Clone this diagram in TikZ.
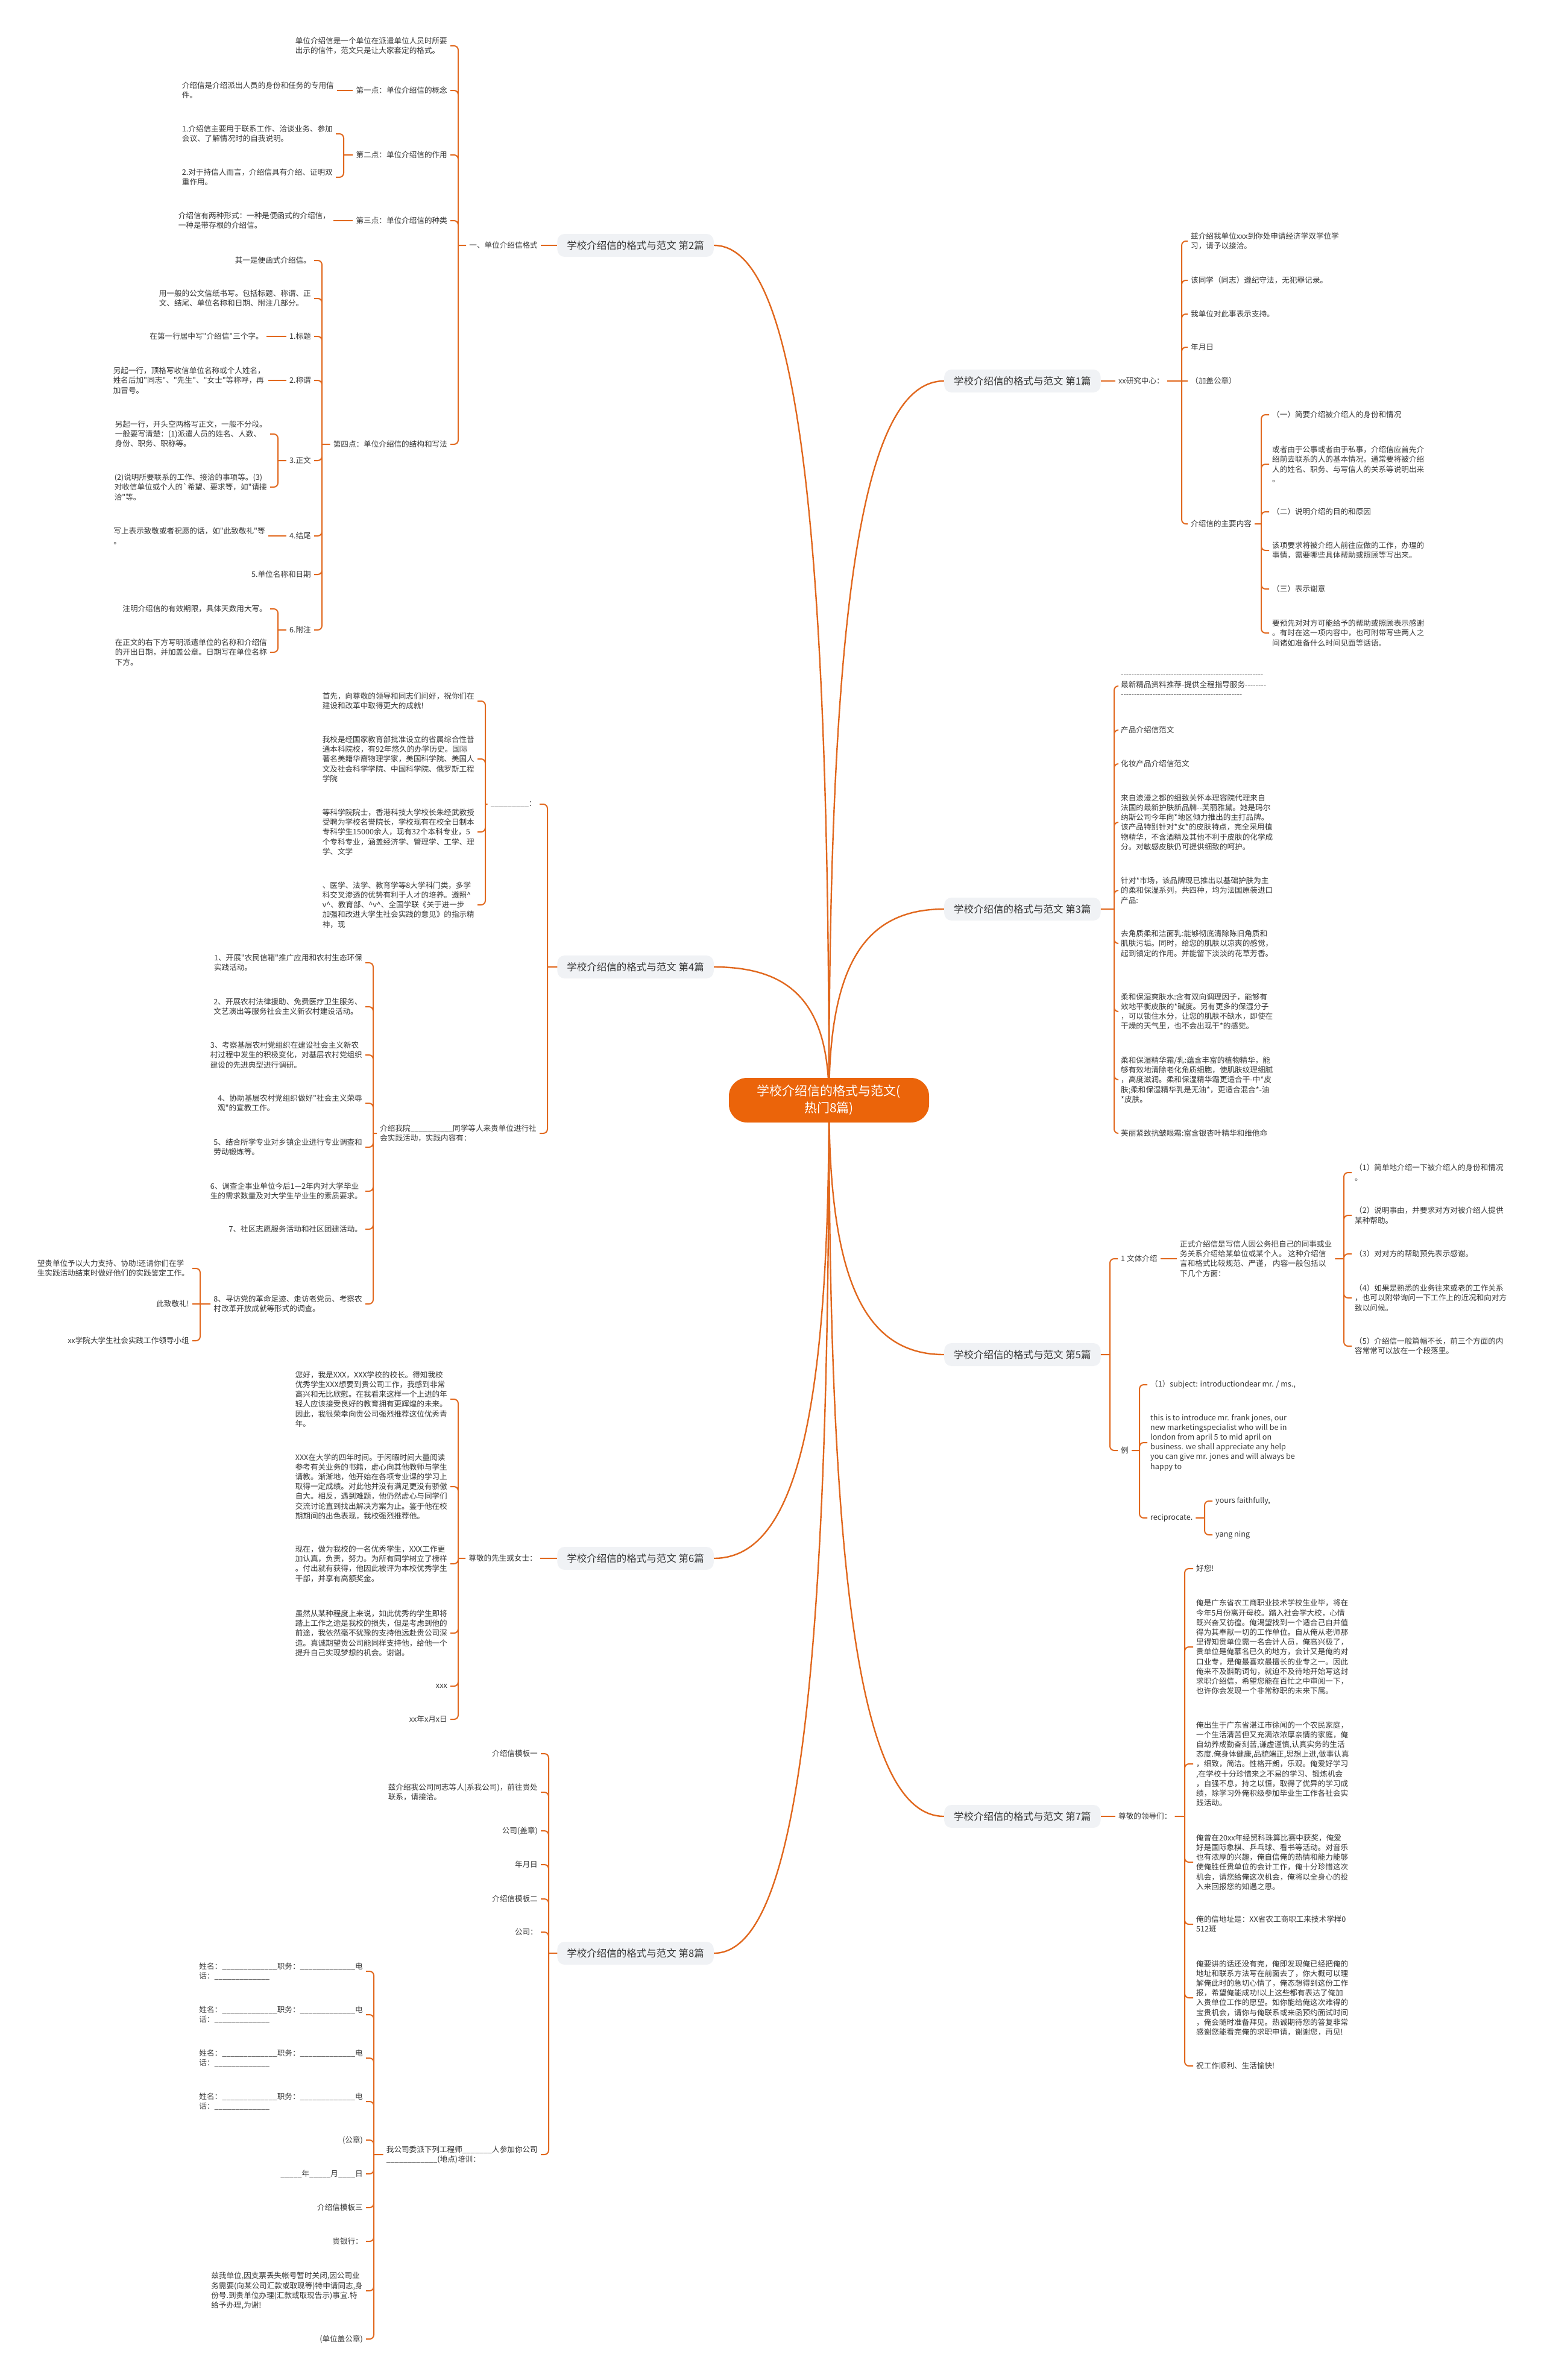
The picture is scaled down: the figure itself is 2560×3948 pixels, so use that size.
\documentclass[tikz,border=0pt]{standalone}
\usepackage{fontspec}
\usepackage{xcolor}
\usepackage{tikz}
\usetikzlibrary{calc,backgrounds}
\newfontfamily\cjkfont{Noto Sans CJK SC}
\definecolor{linec}{RGB}{225,104,30}
\definecolor{rootc}{RGB}{235,100,10}
\definecolor{topicc}{RGB}{240,242,245}
\definecolor{inkc}{RGB}{55,55,55}

\begin{document}
\begin{tikzpicture}[x=1pt,y=-1pt,
  txt/.style={font=\cjkfont\fontsize{12.6}{16.2}\selectfont,text=inkc,inner xsep=5pt,inner ysep=1pt,align=left},
  lt/.style={txt,anchor=east},
  rt/.style={txt,anchor=west},
  topic/.style={font=\cjkfont\fontsize{16.5}{20}\selectfont,text=inkc,fill=topicc,rounded corners=12pt,minimum height=38pt,inner xsep=16pt},
  root/.style={font=\cjkfont\fontsize{21}{28}\selectfont,text=white,fill=rootc,rounded corners=30pt,minimum width=332pt,minimum height=74pt,align=center},
  link/.style={draw=linec,line width=2pt,rounded corners=7pt},
  trunk/.style={draw=linec,line width=2.4pt}]
\useasboundingbox (0,0) rectangle (2560,3948);

\node[root] (root) at (1375,1825) {学校介绍信的格式与范文(\\热门8篇)};

\node[topic,anchor=west] (b1) at (1566,632) {学校介绍信的格式与范文 第1篇};
\node[topic,anchor=east] (b2) at (1184,407) {学校介绍信的格式与范文 第2篇};
\node[topic,anchor=west] (b3) at (1566,1508) {学校介绍信的格式与范文 第3篇};
\node[topic,anchor=east] (b4) at (1184,1604) {学校介绍信的格式与范文 第4篇};
\node[topic,anchor=west] (b5) at (1566,2247) {学校介绍信的格式与范文 第5篇};
\node[topic,anchor=east] (b6) at (1184,2585) {学校介绍信的格式与范文 第6篇};
\node[topic,anchor=west] (b7) at (1566,3013) {学校介绍信的格式与范文 第7篇};
\node[topic,anchor=east] (b8) at (1184,3240) {学校介绍信的格式与范文 第8篇};

\node[lt] (n2) at (897,407) {一、单位介绍信格式};
\coordinate (j2) at (760,407);
\node[lt] (a1) at (747,76) {单位介绍信是一个单位在派遣单位人员时所要\\出示的信件，范文只是让大家套定的格式。};
\node[lt] (a2) at (747,150) {第一点：单位介绍信的概念};
\node[lt] (a3) at (747,257) {第二点：单位介绍信的作用};
\node[lt] (a4) at (747,366) {第三点：单位介绍信的种类};
\node[lt] (a5) at (747,737) {第四点：单位介绍信的结构和写法};
\node[lt] (a2c) at (559,150) {介绍信是介绍派出人员的身份和任务的专用信\\件。};
\coordinate (j2b) at (570,257);
\node[lt] (a3c1) at (557,222) {1.介绍信主要用于联系工作、洽谈业务、参加\\会议、了解情况时的自我说明。};
\node[lt] (a3c2) at (557,294) {2.对于持信人而言，介绍信具有介绍、证明双\\重作用。};
\node[lt] (a4c) at (553,366) {介绍信有两种形式：一种是便函式的介绍信，\\一种是带存根的介绍信。};
\coordinate (j2c) at (534,737);
\node[lt] (d1) at (521,432) {其一是便函式介绍信。};
\node[lt] (d2) at (521,495) {用一般的公文信纸书写。包括标题、称谓、正\\文、结尾、单位名称和日期、附注几部分。};
\node[lt] (d3) at (521,558) {1.标题};
\node[lt] (d4) at (521,631) {2.称谓};
\node[lt] (d5) at (521,764) {3.正文};
\node[lt] (d6) at (521,889) {4.结尾};
\node[lt] (d7) at (521,953) {5.单位名称和日期};
\node[lt] (d8) at (521,1045) {6.附注};
\node[lt] (d3c) at (442,558) {在第一行居中写"介绍信"三个字。};
\node[lt] (d4c) at (445,631) {另起一行，顶格写收信单位名称或个人姓名，\\姓名后加"同志"、"先生"、"女士"等称呼，再\\加冒号。};
\coordinate (j2d) at (461,764);
\node[lt] (d5c1) at (448,720) {另起一行，开头空两格写正文，一般不分段。\\一般要写清楚：(1)派遣人员的姓名、人数、\\身份、职务、职称等。};
\node[lt] (d5c2) at (448,808) {(2)说明所要联系的工作、接洽的事项等。(3)\\对收信单位或个人的`希望、要求等，如"请接\\洽"等。};
\node[lt] (d6c) at (445,889) {写上表示致敬或者祝愿的话，如"此致敬礼"等\\。};
\coordinate (j2e) at (461,1045);
\node[lt] (d8c1) at (448,1010) {注明介绍信的有效期限，具体天数用大写。};
\node[lt] (d8c2) at (448,1082) {在正文的右下方写明派遣单位的名称和介绍信\\的开出日期，并加盖公章。日期写在单位名称\\下方。};

\draw[link] (b2) -- (n2);
\draw[link] (n2) -- (j2) (j2) |- (a1.east) (j2) |- (a2.east) (j2) |- (a3.east) (j2) |- (a4.east) (j2) |- (a5.east);
\draw[link] (a2) -- (a2c);
\draw[link] (a3) -- (j2b) (j2b) |- (a3c1.east) (j2b) |- (a3c2.east);
\draw[link] (a4) -- (a4c);
\draw[link] (a5) -- (j2c) (j2c) |- (d1.east) (j2c) |- (d2.east) (j2c) |- (d3.east) (j2c) |- (d4.east) (j2c) |- (d5.east) (j2c) |- (d6.east) (j2c) |- (d7.east) (j2c) |- (d8.east);
\draw[link] (d3) -- (d3c);
\draw[link] (d4) -- (d4c);
\draw[link] (d5) -- (j2d) (j2d) |- (d5c1.east) (j2d) |- (d5c2.east);
\draw[link] (d6) -- (d6c);
\draw[link] (d8) -- (j2e) (j2e) |- (d8c1.east) (j2e) |- (d8c2.east);

\node[rt] (f0) at (1850,632) {xx研究中心：};
\coordinate (j1) at (1960,632);
\node[rt] (g1) at (1970,400) {兹介绍我单位xxx到你处申请经济学双学位学\\习，请予以接洽。};
\node[rt] (g2) at (1970,465) {该同学（同志）遵纪守法，无犯罪记录。};
\node[rt] (g3) at (1970,521) {我单位对此事表示支持。};
\node[rt] (g4) at (1970,576) {年月日};
\node[rt] (g5) at (1970,632) {（加盖公章）};
\node[rt] (g6) at (1970,869) {介绍信的主要内容};
\coordinate (j1b) at (2092,869);
\node[rt] (h1) at (2105,688) {（一）简要介绍被介绍人的身份和情况};
\node[rt] (h2) at (2105,770) {或者由于公事或者由于私事，介绍信应首先介\\绍前去联系的人的基本情况。通常要将被介绍\\人的姓名、职务、与写信人的关系等说明出来\\。};
\node[rt] (h3) at (2105,849) {（二）说明介绍的目的和原因};
\node[rt] (h4) at (2105,913) {该项要求将被介绍人前往应做的工作，办理的\\事情，需要哪些具体帮助或照顾等写出来。};
\node[rt] (h5) at (2105,977) {（三）表示谢意};
\node[rt] (h6) at (2105,1050) {要预先对对方可能给予的帮助或照顾表示感谢\\。有时在这一项内容中，也可附带写些两人之\\间诸如准备什么时间见面等话语。};

\draw[link] (b1) -- (f0);
\draw[link] (f0) -- (j1) (j1) |- (g1.west) (j1) |- (g2.west) (j1) |- (g3.west) (j1) |- (g4.west) (j1) -- (g5.west) (j1) |- (g6.west);
\draw[link] (g6) -- (j1b) (j1b) |- (h1.west) (j1b) |- (h2.west) (j1b) |- (h3.west) (j1b) |- (h4.west) (j1b) |- (h5.west) (j1b) |- (h6.west);

\coordinate (j3) at (1848,1508);
\node[rt] (k1) at (1854,1138) {------------------------------------------------------\\最新精品资料推荐-提供全程指导服务--------\\----------------------------------------------};
\node[rt] (k2) at (1854,1211) {产品介绍信范文};
\node[rt] (k3) at (1854,1267) {化妆产品介绍信范文};
\node[rt] (k4) at (1854,1364) {来自浪漫之都的细致关怀本理容院代理来自\\法国的最新护肤新品牌--芙丽雅黛。她是玛尔\\纳斯公司今年向*地区倾力推出的主打品牌。\\该产品特别针对*女*的皮肤特点，完全采用植\\物精华，不含酒精及其他不利于皮肤的化学成\\分。对敏感皮肤仍可提供细致的呵护。};
\node[rt] (k5) at (1854,1477) {针对*市场，该品牌现已推出以基础护肤为主\\的柔和保湿系列，共四种，均为法国原装进口\\产品:};
\node[rt] (k6) at (1854,1565) {去角质柔和洁面乳:能够彻底清除陈旧角质和\\肌肤污垢。同时，给您的肌肤以凉爽的感觉，\\起到镇定的作用。并能留下淡淡的花草芳香。};
\node[rt] (k7) at (1854,1678) {柔和保湿爽肤水:含有双向调理因子，能够有\\效地平衡皮肤的*碱度。另有更多的保湿分子\\，可以锁住水分，让您的肌肤不缺水，即使在\\干燥的天气里，也不会出现干*的感觉。};
\node[rt] (k8) at (1854,1791) {柔和保湿精华霜/乳:蕴含丰富的植物精华，能\\够有效地清除老化角质细胞，使肌肤纹理细腻\\，高度滋润。柔和保湿精华霜更适合干-中*皮\\肤;柔和保湿精华乳是无油*，更适合混合*-油\\*皮肤。};
\node[rt] (k9) at (1854,1880) {芙丽紧致抗皱眼霜:富含银杏叶精华和维他命};

\draw[link] (b3) -- (j3) (j3) |- (k1.west) (j3) |- (k2.west) (j3) |- (k3.west) (j3) |- (k4.west) (j3) |- (k5.west) (j3) |- (k6.west) (j3) |- (k7.west) (j3) |- (k8.west) (j3) |- (k9.west);

\coordinate (j4) at (908,1604);
\node[lt] (m1) at (895,1334) {\_\_\_\_\_\_\_\_\_：};
\node[lt] (m2) at (895,1880) {介绍我院\_\_\_\_\_\_\_\_\_\_同学等人来贵单位进行社\\会实践活动，实践内容有：};
\coordinate (j4b) at (805,1334);
\node[lt] (p1) at (792,1163) {首先，向尊敬的领导和同志们问好，祝你们在\\建设和改革中取得更大的成就!};
\node[lt] (p2) at (792,1259) {我校是经国家教育部批准设立的省属综合性普\\通本科院校，有92年悠久的办学历史。国际\\著名美籍华裔物理学家，美国科学院、美国人\\文及社会科学学院、中国科学院、俄罗斯工程\\学院};
\node[lt] (p3) at (792,1380) {等科学院院士，香港科技大学校长朱经武教授\\受聘为学校名誉院长，学校现有在校全日制本\\专科学生15000余人，现有32个本科专业，5\\个专科专业，涵盖经济学、管理学、工学、理\\学、文学};
\node[lt] (p4) at (792,1501) {、医学、法学、教育学等8大学科门类，多学\\科交叉渗透的优势有利于人才的培养。遵照\textasciicircum\\v\textasciicircum、教育部、\textasciicircum v\textasciicircum、全国学联《关于进一步\\加强和改进大学生社会实践的意见》的指示精\\神，现};
\coordinate (j4c) at (619,1880);
\node[lt] (q1) at (606,1597) {1、开展"农民信箱"推广应用和农村生态环保\\实践活动。};
\node[lt] (q2) at (606,1670) {2、开展农村法律援助、免费医疗卫生服务、\\文艺演出等服务社会主义新农村建设活动。};
\node[lt] (q3) at (606,1750) {3、考察基层农村党组织在建设社会主义新农\\村过程中发生的积极变化，对基层农村党组织\\建设的先进典型进行调研。};
\node[lt] (q4) at (606,1830) {4、协助基层农村党组织做好"社会主义荣辱\\观"的宣教工作。};
\node[lt] (q5) at (606,1903) {5、结合所学专业对乡镇企业进行专业调查和\\劳动锻炼等。};
\node[lt] (q6) at (606,1976) {6、调查企事业单位今后1—2年内对大学毕业\\生的需求数量及对大学生毕业生的素质要求。};
\node[lt] (q7) at (606,2039) {7、社区志愿服务活动和社区团建活动。};
\node[lt] (q8) at (606,2163) {8、寻访党的革命足迹、走访老党员、考察农\\村改革开放成就等形式的调查。};
\coordinate (j4d) at (332,2163);
\node[lt] (r1) at (319,2104) {望贵单位予以大力支持、协助!还请你们在学\\生实践活动结束时做好他们的实践鉴定工作。};
\node[lt] (r2) at (319,2163) {此致敬礼!};
\node[lt] (r3) at (319,2224) {xx学院大学生社会实践工作领导小组};

\draw[link] (b4) -- (j4) (j4) |- (m1.east) (j4) |- (m2.east);
\draw[link] (m1) -- (j4b) (j4b) |- (p1.east) (j4b) |- (p2.east) (j4b) |- (p3.east) (j4b) |- (p4.east);
\draw[link] (m2) -- (j4c) (j4c) |- (q1.east) (j4c) |- (q2.east) (j4c) |- (q3.east) (j4c) |- (q4.east) (j4c) |- (q5.east) (j4c) |- (q6.east) (j4c) |- (q7.east) (j4c) |- (q8.east);
\draw[link] (q8) -- (j4d) (j4d) |- (r1.east) (j4d) -- (r2.east) (j4d) |- (r3.east);

\coordinate (j5) at (1841,2247);
\node[rt] (s1) at (1854,2088) {1 文体介绍};
\node[rt] (s2) at (1854,2406) {例};
\node[rt] (t0) at (1952,2088) {正式介绍信是写信人因公务把自己的同事或业\\务关系介绍给某单位或某个人。 这种介绍信\\言和格式比较规范、严谨， 内容一般包括以\\下几个方面：};
\coordinate (j5b) at (2229,2088);
\node[rt] (u1) at (2242,1945) {（1）简单地介绍一下被介绍人的身份和情况\\。};
\node[rt] (u2) at (2242,2016) {（2）说明事由，并要求对方对被介绍人提供\\某种帮助。};
\node[rt] (u3) at (2242,2080) {（3）对对方的帮助预先表示感谢。};
\node[rt] (u4) at (2242,2153) {（4）如果是熟悉的业务往来或老的工作关系\\，也可以附带询问一下工作上的近况和向对方\\致以问候。};
\node[rt] (u5) at (2242,2233) {（5）介绍信一般篇幅不长，前三个方面的内\\容常常可以放在一个段落里。};
\coordinate (j5c) at (1890,2406);
\node[rt] (v1) at (1903,2297) {（1）subject: introductiondear mr. / ms.,};
\node[rt] (v2) at (1903,2393) {this is to introduce mr. frank jones, our\\new marketingspecialist who will be in\\london from april 5 to mid april on\\business. we shall appreciate any help\\you can give mr. jones and will always be\\happy to};
\node[rt] (v3) at (1903,2518) {reciprocate.};
\coordinate (j5d) at (1998,2518);
\node[rt] (w1) at (2011,2490) {yours faithfully,};
\node[rt] (w2) at (2011,2546) {yang ning};

\draw[link] (b5) -- (j5) (j5) |- (s1.west) (j5) |- (s2.west);
\draw[link] (s1) -- (t0);
\draw[link] (t0) -- (j5b) (j5b) |- (u1.west) (j5b) |- (u2.west) (j5b) |- (u3.west) (j5b) |- (u4.west) (j5b) |- (u5.west);
\draw[link] (s2) -- (j5c) (j5c) |- (v1.west) (j5c) |- (v2.west) (j5c) |- (v3.west);
\draw[link] (v3) -- (j5d) (j5d) |- (w1.west) (j5d) |- (w2.west);

\node[lt] (x0) at (896,2585) {尊敬的先生或女士：};
\coordinate (j6) at (760,2585);
\node[lt] (y1) at (747,2321) {您好，我是XXX，XXX学校的校长。得知我校\\优秀学生XXX想要到贵公司工作，我感到非常\\高兴和无比欣慰。在我看来这样一个上进的年\\轻人应该接受良好的教育拥有更辉煌的未来。\\因此，我很荣幸向贵公司强烈推荐这位优秀青\\年。};
\node[lt] (y2) at (747,2466) {XXX在大学的四年时间。于闲暇时间大量阅读\\参考有关业务的书籍，虚心向其他教师与学生\\请教。渐渐地，他开始在各项专业课的学习上\\取得一定成绩。对此他并没有满足更没有骄傲\\自大。相反，遇到难题，他仍然虚心与同学们\\交流讨论直到找出解决方案为止。鉴于他在校\\期期间的出色表现，我校强烈推荐他。};
\node[lt] (y3) at (747,2594) {现在，做为我校的一名优秀学生，XXX工作更\\加认真，负责，努力。为所有同学树立了榜样\\。付出就有获得，他因此被评为本校优秀学生\\干部，并享有高额奖金。};
\node[lt] (y4) at (747,2709) {虽然从某种程度上来说，如此优秀的学生即将\\踏上工作之途是我校的损失，但是考虑到他的\\前途，我依然毫不犹豫的支持他远赴贵公司深\\造。真诚期望贵公司能同样支持他，给他一个\\提升自己实现梦想的机会。谢谢。};
\node[lt] (y5) at (747,2797) {xxx};
\node[lt] (y6) at (747,2852) {xx年x月x日};

\draw[link] (b6) -- (x0);
\draw[link] (x0) -- (j6) (j6) |- (y1.east) (j6) |- (y2.east) (j6) |- (y3.east) (j6) |- (y4.east) (j6) |- (y5.east) (j6) |- (y6.east);

\node[rt] (z0) at (1850,3013) {尊敬的领导们：};
\coordinate (j7) at (1965,3013);
\node[rt] (zz1) at (1979,2602) {好您!};
\node[rt] (zz2) at (1979,2732) {俺是广东省农工商职业技术学校生业毕，将在\\今年5月份离开母校。踏入社会学大校，心情\\既兴奋又彷徨。俺渴望找到一个适合己自并值\\得为其奉献一切的工作单位。自从俺从老师那\\里得知贵单位需一名会计人员，俺高兴极了，\\贵单位是俺慕名已久的地方，会计又是俺的对\\口业专，是俺最喜欢最擅长的业专之一。因此\\俺来不及斟酌词句，就迫不及待地开始写这封\\求职介绍信，希望您能在百忙之中审阅一下，\\也许你会发现一个非常称职的未来下属。};
\node[rt] (zz3) at (1979,2926) {俺出生于广东省湛江市徐闻的一个农民家庭，\\一个生活清苦但又充满浓浓厚亲情的家庭，俺\\自幼养成勤奋刻苦,谦虚谨慎,认真实务的生活\\态度.俺身体健康,品貌端正,思想上进,做事认真\\，细致，简洁。性格开朗，乐观。俺爱好学习\\,在学校十分珍惜来之不易的学习、锻炼机会\\，自强不息，持之以恒，取得了优异的学习成\\绩，除学习外俺积级参加毕业生工作各社会实\\践活动。};
\node[rt] (zz4) at (1979,3089) {俺曾在20xx年经贸科珠算比赛中获奖，俺爱\\好是国际象棋、乒乓球、看书等活动。对音乐\\也有浓厚的兴趣，俺自信俺的热情和能力能够\\使俺胜任贵单位的会计工作，俺十分珍惜这次\\机会，请您给俺这次机会，俺将以全身心的投\\入来回报您的知遇之恩。};
\node[rt] (zz5) at (1979,3192) {俺的信地址是：XX省农工商职工来技术学样0\\512班};
\node[rt] (zz6) at (1979,3314) {俺要讲的话还没有完，俺即发现俺已经把俺的\\地址和联系方法写在前面去了，你大概可以理\\解俺此时的急切心情了，俺态想得到这份工作\\报，希望俺能成功!以上这些都有表达了俺加\\入贵单位工作的愿望。如你能给俺这次难得的\\宝贵机会，请你与俺联系或来函预约面试时间\\，俺会随时准备拜见。热诚期待您的答复非常\\感谢您能看完俺的求职申请，谢谢您，再见!};
\node[rt] (zz7) at (1979,3427) {祝工作顺利、生活愉快!};

\draw[link] (b7) -- (z0);
\draw[link] (z0) -- (j7) (j7) |- (zz1.west) (j7) |- (zz2.west) (j7) |- (zz3.west) (j7) |- (zz4.west) (j7) |- (zz5.west) (j7) |- (zz6.west) (j7) |- (zz7.west);

\coordinate (j8) at (910,3240);
\node[lt] (A1) at (897,2909) {介绍信模板一};
\node[lt] (A2) at (897,2973) {兹介绍我公司同志等人(系我公司)，前往贵处\\联系，请接洽。};
\node[lt] (A3) at (897,3037) {公司(盖章)};
\node[lt] (A4) at (897,3093) {年月日};
\node[lt] (A5) at (897,3150) {介绍信模板二};
\node[lt] (A6) at (897,3205) {公司：};
\node[lt] (A7) at (897,3574) {我公司委派下列工程师\_\_\_\_\_\_\_人参加你公司\\\_\_\_\_\_\_\_\_\_\_\_\_(地点)培训：};
\coordinate (j8b) at (620,3574);
\node[lt] (B1) at (607,3270) {姓名：\_\_\_\_\_\_\_\_\_\_\_\_\_职务：\_\_\_\_\_\_\_\_\_\_\_\_\_电\\话：\_\_\_\_\_\_\_\_\_\_\_\_\_};
\node[lt] (B2) at (607,3342) {姓名：\_\_\_\_\_\_\_\_\_\_\_\_\_职务：\_\_\_\_\_\_\_\_\_\_\_\_\_电\\话：\_\_\_\_\_\_\_\_\_\_\_\_\_};
\node[lt] (B3) at (607,3414) {姓名：\_\_\_\_\_\_\_\_\_\_\_\_\_职务：\_\_\_\_\_\_\_\_\_\_\_\_\_电\\话：\_\_\_\_\_\_\_\_\_\_\_\_\_};
\node[lt] (B4) at (607,3486) {姓名：\_\_\_\_\_\_\_\_\_\_\_\_\_职务：\_\_\_\_\_\_\_\_\_\_\_\_\_电\\话：\_\_\_\_\_\_\_\_\_\_\_\_\_};
\node[lt] (B5) at (607,3550) {(公章)};
\node[lt] (B6) at (607,3606) {\_\_\_\_\_年\_\_\_\_\_月\_\_\_\_日};
\node[lt] (B7) at (607,3662) {介绍信模板三};
\node[lt] (B8) at (607,3718) {贵银行：};
\node[lt] (B9) at (607,3800) {兹我单位,因支票丢失帐号暂时关闭,因公司业\\务需要(向某公司汇款或取现等)特申请同志,身\\份号.到贵单位办理(汇款或取现告示)事宜.特\\给予办理,为谢!};
\node[lt] (B10) at (607,3880) {(单位盖公章)};

\draw[link] (b8) -- (j8) (j8) |- (A1.east) (j8) |- (A2.east) (j8) |- (A3.east) (j8) |- (A4.east) (j8) |- (A5.east) (j8) |- (A6.east) (j8) |- (A7.east);
\draw[link] (A7) -- (j8b) (j8b) |- (B1.east) (j8b) |- (B2.east) (j8b) |- (B3.east) (j8b) |- (B4.east) (j8b) |- (B5.east) (j8b) |- (B6.east) (j8b) |- (B7.east) (j8b) |- (B8.east) (j8b) |- (B9.east) (j8b) |- (B10.east);

\begin{scope}[on background layer]
\fill[white] (0,0) rectangle (2560,3948);
\draw[trunk] (root.center) .. controls ($(root.center |- b1.west)!0.3!(root.center)$) and ($(root.center |- b1.west)!0.3!(b1.west)$) .. (b1.west);
\draw[trunk] (root.center) .. controls ($(root.center |- b2.east)!0.3!(root.center)$) and ($(root.center |- b2.east)!0.3!(b2.east)$) .. (b2.east);
\draw[trunk] (root.center) .. controls ($(root.center |- b3.west)!0.3!(root.center)$) and ($(root.center |- b3.west)!0.3!(b3.west)$) .. (b3.west);
\draw[trunk] (root.center) .. controls ($(root.center |- b4.east)!0.3!(root.center)$) and ($(root.center |- b4.east)!0.3!(b4.east)$) .. (b4.east);
\draw[trunk] (root.center) .. controls ($(root.center |- b5.west)!0.3!(root.center)$) and ($(root.center |- b5.west)!0.3!(b5.west)$) .. (b5.west);
\draw[trunk] (root.center) .. controls ($(root.center |- b6.east)!0.3!(root.center)$) and ($(root.center |- b6.east)!0.3!(b6.east)$) .. (b6.east);
\draw[trunk] (root.center) .. controls ($(root.center |- b7.west)!0.3!(root.center)$) and ($(root.center |- b7.west)!0.3!(b7.west)$) .. (b7.west);
\draw[trunk] (root.center) .. controls ($(root.center |- b8.east)!0.3!(root.center)$) and ($(root.center |- b8.east)!0.3!(b8.east)$) .. (b8.east);
\end{scope}
\end{tikzpicture}
\end{document}
